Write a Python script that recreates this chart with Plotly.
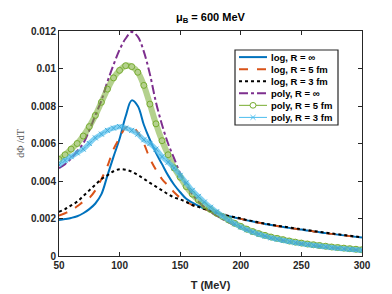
import plotly.graph_objects as go

T = list(range(50, 301, 5))

log_inf = [0.00192, 0.00197, 0.00203, 0.00212, 0.00228, 0.00250, 0.00280, 0.00330, 0.00430, 0.00530,
           0.00625, 0.00745, 0.00830, 0.00800, 0.00700, 0.00620, 0.00550, 0.00490, 0.00430, 0.00380,
           0.00340, 0.00305, 0.00285, 0.00268, 0.00252, 0.00240, 0.00230, 0.00220, 0.00212, 0.00205,
           0.00198, 0.00190, 0.00184, 0.00177, 0.00171, 0.00165, 0.00160, 0.00155, 0.00150, 0.00145,
           0.00141, 0.00136, 0.00131, 0.00127, 0.00122, 0.00118, 0.00114, 0.00110, 0.00106, 0.00102,
           0.00098]
log_r5 = [0.00215, 0.00228, 0.00243, 0.00265, 0.00290, 0.00310, 0.00350, 0.00410, 0.00480, 0.00570,
          0.00630, 0.00685, 0.00690, 0.00660, 0.00600, 0.00520, 0.00460, 0.00410, 0.00375, 0.00340,
          0.00310, 0.00290, 0.00272, 0.00260, 0.00250, 0.00240, 0.00230, 0.00220, 0.00212, 0.00205,
          0.00198, 0.00190, 0.00184, 0.00177, 0.00171, 0.00165, 0.00160, 0.00155, 0.00150, 0.00145,
          0.00141, 0.00136, 0.00131, 0.00127, 0.00122, 0.00118, 0.00114, 0.00110, 0.00106, 0.00102,
          0.00098]
log_r3 = [0.00235, 0.00250, 0.00270, 0.00290, 0.00320, 0.00350, 0.00380, 0.00410, 0.00430, 0.00452,
          0.00463, 0.00460, 0.00450, 0.00432, 0.00412, 0.00390, 0.00370, 0.00350, 0.00330, 0.00312,
          0.00302, 0.00288, 0.00272, 0.00262, 0.00251, 0.00241, 0.00231, 0.00222, 0.00214, 0.00207,
          0.00200, 0.00192, 0.00186, 0.00179, 0.00173, 0.00167, 0.00162, 0.00157, 0.00152, 0.00147,
          0.00143, 0.00138, 0.00133, 0.00129, 0.00124, 0.00120, 0.00116, 0.00112, 0.00108, 0.00104,
          0.00100]
poly_inf = [0.00468, 0.00490, 0.00520, 0.00560, 0.00600, 0.00670, 0.00750, 0.00830, 0.00930, 0.01020,
            0.01100, 0.01160, 0.01195, 0.01170, 0.01090, 0.00970, 0.00820, 0.00700, 0.00600, 0.00520,
            0.00440, 0.00380, 0.00330, 0.00290, 0.00260, 0.00235, 0.00215, 0.00197, 0.00180, 0.00165,
            0.00152, 0.00139, 0.00127, 0.00116, 0.00106, 0.00097, 0.00089, 0.00082, 0.00076, 0.00070,
            0.00065, 0.00060, 0.00055, 0.00051, 0.00047, 0.00044, 0.00041, 0.00038, 0.00036, 0.00033,
            0.00031]
poly_r5 = [0.00515, 0.00540, 0.00570, 0.00600, 0.00640, 0.00690, 0.00750, 0.00820, 0.00890, 0.00950,
           0.00990, 0.01015, 0.01010, 0.00980, 0.00910, 0.00810, 0.00705, 0.00615, 0.00540, 0.00470,
           0.00420, 0.00370, 0.00330, 0.00298, 0.00270, 0.00248, 0.00228, 0.00210, 0.00192, 0.00174,
           0.00158, 0.00143, 0.00130, 0.00119, 0.00110, 0.00101, 0.00094, 0.00087, 0.00080, 0.00074,
           0.00069, 0.00064, 0.00060, 0.00056, 0.00052, 0.00048, 0.00045, 0.00042, 0.00039, 0.00036,
           0.00033]
poly_r3 = [0.00485, 0.00510, 0.00530, 0.00550, 0.00570, 0.00600, 0.00630, 0.00650, 0.00670, 0.00682,
           0.00690, 0.00682, 0.00670, 0.00650, 0.00620, 0.00600, 0.00570, 0.00530, 0.00500, 0.00470,
           0.00430, 0.00390, 0.00350, 0.00318, 0.00288, 0.00260, 0.00236, 0.00213, 0.00192, 0.00172,
           0.00155, 0.00140, 0.00127, 0.00116, 0.00106, 0.00097, 0.00090, 0.00083, 0.00077, 0.00071,
           0.00066, 0.00061, 0.00057, 0.00053, 0.00049, 0.00045, 0.00042, 0.00039, 0.00036, 0.00033,
           0.00030]

names = ["log, R = \u221e", "log, R = 5 fm", "log, R = 3 fm",
         "poly, R = \u221e", "poly, R = 5 fm", "poly, R = 3 fm"]

x_ticks = [50, 100, 150, 200, 250, 300]
y_ticks = [0, 0.002, 0.004, 0.006, 0.008, 0.01, 0.012]
y_tick_text = ["0", "0.002", "0.004", "0.006", "0.008", "0.01", "0.012"]

GREEN, CYAN, PURPLE = "#77AC30", "#4DBEEE", "#7E2F8E"
BLUE, ORANGE, BLACK = "#0072BD", "#D95319", "#000000"

fig = go.Figure()
# draw order as in the original (log curves first, poly curves on top)
fig.add_trace(go.Scatter(x=T, y=log_inf, name=names[0], mode="lines", line_shape="spline",
                         line=dict(color=BLUE, width=2), showlegend=False))
fig.add_trace(go.Scatter(x=T, y=log_r5, name=names[1], mode="lines", line_shape="spline",
                         line=dict(color=ORANGE, width=2, dash="dash"), showlegend=False))
fig.add_trace(go.Scatter(x=T, y=log_r3, name=names[2], mode="lines", line_shape="spline",
                         line=dict(color=BLACK, width=2, dash="dot"), showlegend=False))
fig.add_trace(go.Scatter(x=T, y=poly_inf, name=names[3], mode="lines", line_shape="spline",
                         line=dict(color=PURPLE, width=2, dash="dashdot"), showlegend=False))
# poly R = 5 fm : dense open circles -> band + circle texture
fig.add_trace(go.Scatter(x=T, y=poly_r5, name=names[4], mode="lines", line_shape="spline",
                         line=dict(color="rgba(119,172,48,0.55)", width=6), showlegend=False))
fig.add_trace(go.Scatter(x=T, y=poly_r5, name=names[4], mode="markers",
                         marker=dict(symbol="circle-open", size=6, color=GREEN, line=dict(width=1)),
                         showlegend=False))
# poly R = 3 fm : dense x markers -> band
fig.add_trace(go.Scatter(x=T, y=poly_r3, name=names[5], mode="lines", line_shape="spline",
                         line=dict(color="rgba(77,190,238,0.7)", width=5), showlegend=False))
fig.add_trace(go.Scatter(x=T, y=poly_r3, name=names[5], mode="markers",
                         marker=dict(symbol="x-thin-open", size=5, color="#3fa9d8",
                                     line=dict(width=1, color="#6fcdf3")),
                         showlegend=False))

# ---- compact legend box drawn in paper coordinates ----
W, H = 392, 294
ML, MR, MT, MB = 51, 38, 23, 34
PW, PH = W - ML - MR, H - MT - MB


def px(xp):
    return (xp - ML) / PW


def py(yp):
    return (H - MB - yp) / PH


shapes = [dict(type="rect", xref="paper", yref="paper", x0=px(227), x1=px(330), y0=py(122), y1=py(43),
               line=dict(color="#262626", width=1.2), fillcolor="white", layer="above")]
row_y = [50.5, 63.2, 75.9, 88.6, 101.3, 114.0]
styles = [(BLUE, 2, "solid"), (ORANGE, 2, "dash"), (BLACK, 2, "dot"),
          (PURPLE, 2, "dashdot"), (GREEN, 1, "solid"), (CYAN, 1, "solid")]
annotations = []
for i, (c, w, d) in enumerate(styles):
    yy = py(row_y[i])
    shapes.append(dict(type="line", xref="paper", yref="paper", x0=px(231), x1=px(259), y0=yy, y1=yy,
                       line=dict(color=c, width=w, dash=d), layer="above"))
    annotations.append(dict(text="<b>" + names[i] + "</b>", xref="paper", yref="paper",
                            x=px(261), y=yy, xanchor="left", yanchor="middle", showarrow=False,
                            font=dict(family="Liberation Sans, Arial", size=9.5, color="#000000")))
cx = 245
shapes.append(dict(type="circle", xref="paper", yref="paper",
                   x0=px(cx - 3), x1=px(cx + 3), y0=py(row_y[4] + 3), y1=py(row_y[4] - 3),
                   line=dict(color=GREEN, width=1), fillcolor="white", layer="above"))
for sgn in (1, -1):
    shapes.append(dict(type="line", xref="paper", yref="paper",
                       x0=px(cx - 2.5), x1=px(cx + 2.5), y0=py(row_y[5] - 2.5 * sgn), y1=py(row_y[5] + 2.5 * sgn),
                       line=dict(color=CYAN, width=1), layer="above"))

axis_common = dict(showgrid=False, zeroline=False, showline=True, linecolor="#262626", linewidth=1,
                   mirror="ticks", ticks="inside", ticklen=4, tickcolor="#262626",
                   tickfont=dict(family="Liberation Sans, Arial", size=10, color="#262626", weight="bold"))

annotations.append(dict(text="<b>\u03bc<sub>B</sub> = 600 MeV</b>", xref="paper", yref="paper",
                        x=0.5, y=py(9), xanchor="center", yanchor="middle", showarrow=False,
                        font=dict(family="Liberation Sans, Arial", size=11, color="#000000")))

fig.update_layout(
    width=W, height=H,
    margin=dict(l=ML, r=MR, t=MT, b=MB),
    paper_bgcolor="white", plot_bgcolor="white",
    xaxis=dict(range=[50, 300], tickvals=x_ticks, ticktext=[str(v) for v in x_ticks],
               title=dict(text="<b>T (MeV)</b>", standoff=11,
                          font=dict(family="Liberation Sans, Arial", size=11, color="#262626")),
               **axis_common),
    yaxis=dict(range=[0, 0.012], tickvals=y_ticks, ticktext=y_tick_text,
               title=dict(text="d\u03a6 /dT", standoff=4,
                          font=dict(family="Liberation Serif, Times New Roman", size=10, color="#555555")),
               **axis_common),
    shapes=shapes,
    annotations=annotations,
    showlegend=False,
)

fig.write_html("out.html")
